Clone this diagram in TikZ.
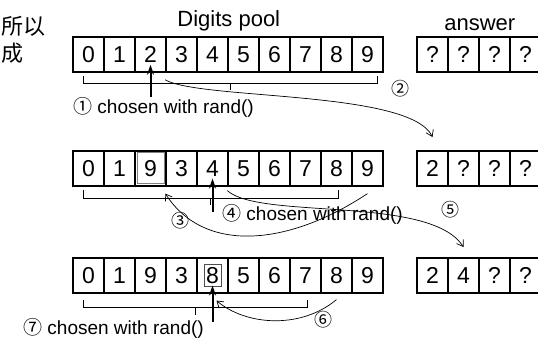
\documentclass[tikz,border=0pt]{standalone}
\usepackage{fontspec}
\setmainfont{Liberation Sans}
\newfontfamily\cjk{Noto Sans CJK SC}
\usetikzlibrary{arrows.meta,positioning}

\tikzset{
	cell/.style={draw,line width=1.6pt,minimum width=31pt,minimum height=35pt,inner sep=0pt,font=\fontsize{23}{23}\selectfont},
	head/.style={inner sep=0pt,font=\fontsize{22}{22}\selectfont},
	lbl/.style={inner sep=0pt,anchor=west,font=\fontsize{19}{19}\selectfont},
	num/.style={inner sep=0pt,font=\cjk\fontsize{18}{18}\selectfont},
	pick/.style={line width=2pt,-{Stealth[length=10pt,width=7pt]}},
	move/.style={line width=0.7pt,-{Straight Barb[length=6pt,width=8pt]}},
	brk/.style={line width=1pt}
}

\begin{document}
\begin{tikzpicture}[x=1pt,y=-1pt]
	\useasboundingbox (0,0) rectangle (538,343);
	% left margin text
	\node[inner sep=0pt,anchor=west,font=\cjk\fontsize{22}{22}\selectfont] (zh1) at (1,26) {所以};
	\node[inner sep=0pt,anchor=west,font=\cjk\fontsize{22}{22}\selectfont] (zh2) at (1,53) {成};
	% pools and answers
	\foreach \v [count=\i from 0] in {0,1,2,3,4,5,6,7,8,9}
		\node[cell] (p1-\i) at (88.5+31*\i,54.5) {\v};
	\foreach \v [count=\i from 0] in {0,1,9,3,4,5,6,7,8,9}
		\node[cell] (p2-\i) at (88.5+31*\i,168.3) {\v};
	\foreach \v [count=\i from 0] in {0,1,9,3,8,5,6,7,8,9}
		\node[cell] (p3-\i) at (88.5+31*\i,275.3) {\v};
	\foreach \v [count=\i from 0] in {?,?,?,?}
		\node[cell] (a1-\i) at (432.5+31*\i,54.5) {\v};
	\foreach \v [count=\i from 0] in {2,?,?,?}
		\node[cell] (a2-\i) at (432.5+31*\i,168.3) {\v};
	\foreach \v [count=\i from 0] in {2,4,?,?}
		\node[cell] (a3-\i) at (432.5+31*\i,275.3) {\v};
	\node[head,above=5pt of p1-4.north east] (pool) {Digits pool};
	\node[head,above=5pt of a1-1.north east] (ans) {answer};
	\draw[gray,line width=0.8pt] ([shift={(2.8pt,2.8pt)}]p2-2.south west) rectangle ([shift={(-2.8pt,-2.8pt)}]p2-2.north east);
	\draw[black!70,line width=0.8pt] ([shift={(-8.5pt,-11.5pt)}]p3-4.center) rectangle ([shift={(8.5pt,11pt)}]p3-4.center);
	% brackets
	\draw[brk] (83,76) |- (377,83) -- (377,76);
	\draw[brk] (230,83) -- (230,90);
	\draw[brk] (83,190) |- (338,198) -- (338,190);
	\draw[brk] (210,198) -- (210,205);
	\draw[brk] (83,300) |- (307,307) -- (307,300);
	\draw[brk] (195,307) -- (195,315);
	% chosen with rand()
	\coordinate (c1) at (150.5,97);
	\coordinate (c2) at (212.5,212);
	\coordinate (c3) at (212.5,322);
	\draw[pick] (c1) -- ([yshift=8pt]p1-2.south);
	\draw[pick] (c2) -- ([yshift=8pt]p2-4.south);
	\draw[pick] (c3) -- ([yshift=8pt]p3-4.south);
	\node[lbl] (t1) at (73,107) {{\cjk ①} chosen with rand()};
	\node[lbl] (t4) at (222,214) {{\cjk ④} chosen with rand()};
	\node[lbl] (t7) at (23,328) {{\cjk ⑦} chosen with rand()};
	% moves
	\draw[move] ([yshift=-7pt]p1-3.south west) .. controls (200,100) and (410,90) .. ([yshift=13pt]a2-0.north);
	\draw[move] ([yshift=-7pt]p2-9.south) .. controls (290,245) and (205,255) .. ([shift={(-1.5pt,-7pt)}]p2-2.south east);
	\draw[move] ([shift={(-1.5pt,-4pt)}]p2-4.south east) .. controls (260,220) and (430,195) .. ([yshift=10pt]a3-1.north);
	\draw[move] ([yshift=-6pt]p3-8.south) .. controls (300,330) and (245,325) .. ([shift={(4pt,-7pt)}]p3-4.south);
	\node[num] (n2) at (400,89) {②};
	\node[num] (n3) at (180,221) {③};
	\node[num] (n5) at (450,210) {⑤};
	\node[num] (n6) at (323,320) {⑥};
\end{tikzpicture}
\end{document}
